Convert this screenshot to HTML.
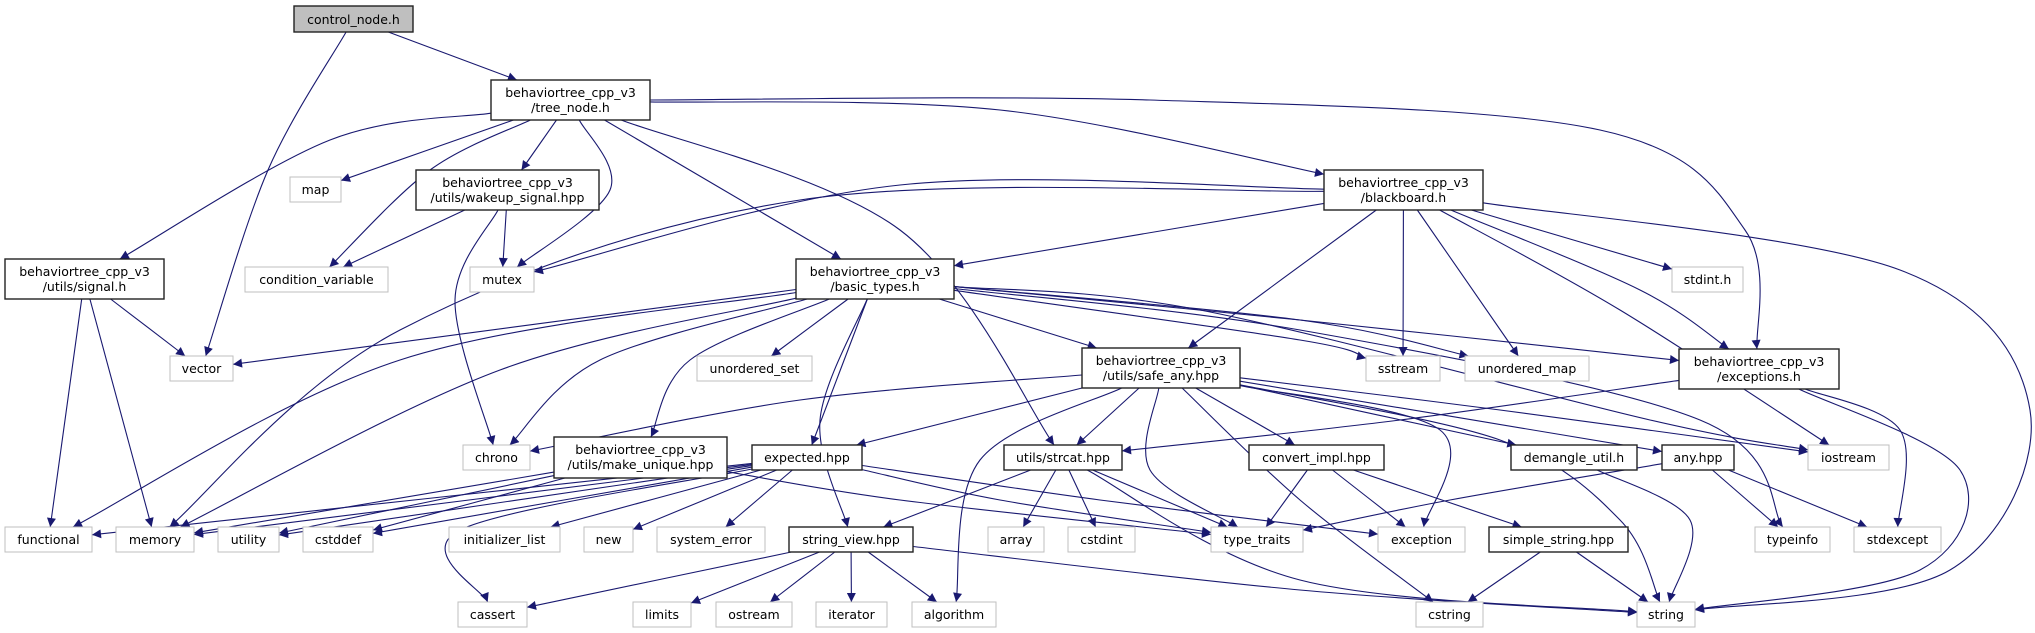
<!DOCTYPE html>
<html><head><meta charset="utf-8">
<style>
html,body{margin:0;padding:0;background:#fff;width:2035px;height:633px;overflow:hidden}
svg{display:block}
text{font-family:"DejaVu Sans","Liberation Sans",sans-serif;font-size:12.5px;fill:#000;text-anchor:middle}
#nodes rect[stroke="#404040"]{stroke:#222;stroke-width:1.4}
</style></head>
<body>
<svg id="g" width="2035" height="633" viewBox="0 0 2035 633" xmlns="http://www.w3.org/2000/svg">
<defs>
<marker id="a" viewBox="0 0 10 10" refX="10" refY="5" markerWidth="11" markerHeight="9" markerUnits="userSpaceOnUse" orient="auto">
<path d="M0,0 L10,5 L0,10 z" fill="#191970"/>
</marker>
</defs>
<g id="edges" fill="none" stroke="#191970" stroke-width="1.1"></g>
<g id="nodes">
<rect x="294" y="6" width="119" height="26" fill="#bfbfbf" stroke="#404040"/><text x="353.5" y="24">control_node.h</text>
<rect x="491" y="80" width="159" height="40" fill="#fff" stroke="#404040"/><text x="570.5" y="97">behaviortree_cpp_v3</text><text x="570.5" y="112">/tree_node.h</text>
<rect x="290" y="177" width="51" height="25" fill="#fff" stroke="#bfbfbf"/><text x="315.5" y="194">map</text>
<rect x="416" y="170" width="183" height="40" fill="#fff" stroke="#404040"/><text x="507.5" y="187">behaviortree_cpp_v3</text><text x="507.5" y="202">/utils/wakeup_signal.hpp</text>
<rect x="5" y="259" width="159" height="40" fill="#fff" stroke="#404040"/><text x="84.5" y="276">behaviortree_cpp_v3</text><text x="84.5" y="291">/utils/signal.h</text>
<rect x="245" y="267" width="143" height="25" fill="#fff" stroke="#bfbfbf"/><text x="316.5" y="284">condition_variable</text>
<rect x="470" y="267" width="64" height="25" fill="#fff" stroke="#bfbfbf"/><text x="502" y="284">mutex</text>
<rect x="1324" y="170" width="159" height="40" fill="#fff" stroke="#404040"/><text x="1403.5" y="187">behaviortree_cpp_v3</text><text x="1403.5" y="202">/blackboard.h</text>
<rect x="796" y="259" width="158" height="40" fill="#fff" stroke="#404040"/><text x="875" y="276">behaviortree_cpp_v3</text><text x="875" y="291">/basic_types.h</text>
<rect x="1672" y="267" width="71" height="25" fill="#fff" stroke="#bfbfbf"/><text x="1707.5" y="284">stdint.h</text>
<rect x="170" y="356" width="63" height="25" fill="#fff" stroke="#bfbfbf"/><text x="201.5" y="373">vector</text>
<rect x="697" y="356" width="115" height="25" fill="#fff" stroke="#bfbfbf"/><text x="754.5" y="373">unordered_set</text>
<rect x="1082" y="348" width="158" height="40" fill="#fff" stroke="#404040"/><text x="1161" y="365">behaviortree_cpp_v3</text><text x="1161" y="380">/utils/safe_any.hpp</text>
<rect x="1366" y="356" width="74" height="25" fill="#fff" stroke="#bfbfbf"/><text x="1403" y="373">sstream</text>
<rect x="1465" y="356" width="124" height="25" fill="#fff" stroke="#bfbfbf"/><text x="1527" y="373">unordered_map</text>
<rect x="1679" y="349" width="160" height="40" fill="#fff" stroke="#404040"/><text x="1759" y="366">behaviortree_cpp_v3</text><text x="1759" y="381">/exceptions.h</text>
<rect x="463" y="445" width="67" height="25" fill="#fff" stroke="#bfbfbf"/><text x="496.5" y="462">chrono</text>
<rect x="554" y="437" width="173" height="41" fill="#fff" stroke="#404040"/><text x="640.5" y="454">behaviortree_cpp_v3</text><text x="640.5" y="469">/utils/make_unique.hpp</text>
<rect x="752" y="445" width="110" height="25" fill="#fff" stroke="#404040"/><text x="807" y="462">expected.hpp</text>
<rect x="1004" y="445" width="118" height="25" fill="#fff" stroke="#404040"/><text x="1063" y="462">utils/strcat.hpp</text>
<rect x="1249" y="445" width="135" height="25" fill="#fff" stroke="#404040"/><text x="1316.5" y="462">convert_impl.hpp</text>
<rect x="1511" y="445" width="126" height="25" fill="#fff" stroke="#404040"/><text x="1574" y="462">demangle_util.h</text>
<rect x="1662" y="445" width="72" height="25" fill="#fff" stroke="#404040"/><text x="1698" y="462">any.hpp</text>
<rect x="1808" y="445" width="81" height="25" fill="#fff" stroke="#bfbfbf"/><text x="1848.5" y="462">iostream</text>
<rect x="5" y="527" width="87" height="25" fill="#fff" stroke="#bfbfbf"/><text x="48.5" y="544">functional</text>
<rect x="116" y="527" width="78" height="25" fill="#fff" stroke="#bfbfbf"/><text x="155" y="544">memory</text>
<rect x="218" y="527" width="61" height="25" fill="#fff" stroke="#bfbfbf"/><text x="248.5" y="544">utility</text>
<rect x="303" y="527" width="70" height="25" fill="#fff" stroke="#bfbfbf"/><text x="338" y="544">cstddef</text>
<rect x="449" y="527" width="111" height="25" fill="#fff" stroke="#bfbfbf"/><text x="504.5" y="544">initializer_list</text>
<rect x="584" y="527" width="49" height="25" fill="#fff" stroke="#bfbfbf"/><text x="608.5" y="544">new</text>
<rect x="657" y="527" width="108" height="25" fill="#fff" stroke="#bfbfbf"/><text x="711" y="544">system_error</text>
<rect x="789" y="527" width="124" height="25" fill="#fff" stroke="#404040"/><text x="851" y="544">string_view.hpp</text>
<rect x="988" y="527" width="56" height="25" fill="#fff" stroke="#bfbfbf"/><text x="1016" y="544">array</text>
<rect x="1068" y="527" width="67" height="25" fill="#fff" stroke="#bfbfbf"/><text x="1101.5" y="544">cstdint</text>
<rect x="1211" y="527" width="92" height="25" fill="#fff" stroke="#bfbfbf"/><text x="1257" y="544">type_traits</text>
<rect x="1378" y="527" width="87" height="25" fill="#fff" stroke="#bfbfbf"/><text x="1421.5" y="544">exception</text>
<rect x="1489" y="527" width="139" height="25" fill="#fff" stroke="#404040"/><text x="1558.5" y="544">simple_string.hpp</text>
<rect x="1755" y="527" width="75" height="25" fill="#fff" stroke="#bfbfbf"/><text x="1792.5" y="544">typeinfo</text>
<rect x="1854" y="527" width="87" height="25" fill="#fff" stroke="#bfbfbf"/><text x="1897.5" y="544">stdexcept</text>
<rect x="458" y="602" width="69" height="25" fill="#fff" stroke="#bfbfbf"/><text x="492.5" y="619">cassert</text>
<rect x="633" y="602" width="58" height="25" fill="#fff" stroke="#bfbfbf"/><text x="662" y="619">limits</text>
<rect x="716" y="602" width="76" height="25" fill="#fff" stroke="#bfbfbf"/><text x="754" y="619">ostream</text>
<rect x="816" y="602" width="71" height="25" fill="#fff" stroke="#bfbfbf"/><text x="851.5" y="619">iterator</text>
<rect x="912" y="602" width="84" height="25" fill="#fff" stroke="#bfbfbf"/><text x="954" y="619">algorithm</text>
<rect x="1416" y="602" width="67" height="25" fill="#fff" stroke="#bfbfbf"/><text x="1449.5" y="619">cstring</text>
<rect x="1637" y="602" width="58" height="25" fill="#fff" stroke="#bfbfbf"/><text x="1666" y="619">string</text>
</g>
</svg>
<script>
var N={
control:[294,6,413,32],tree:[491,80,650,120],map:[290,177,341,202],wakeup:[416,170,599,210],
signal:[5,259,164,299],condvar:[245,267,388,292],mutex:[470,267,534,292],blackboard:[1324,170,1483,210],
basic:[796,259,954,299],stdint:[1672,267,1743,292],vector:[170,356,233,381],uset:[697,356,812,381],
safe:[1082,348,1240,388],sstream:[1366,356,1440,381],umap:[1465,356,1589,381],exceptions:[1679,349,1839,389],
chrono:[463,445,530,470],mku:[554,437,727,478],expected:[752,445,862,470],strcat:[1004,445,1122,470],
convert:[1249,445,1384,470],demangle:[1511,445,1637,470],any:[1662,445,1734,470],iostream:[1808,445,1889,470],
functional:[5,527,92,552],memory:[116,527,194,552],utility:[218,527,279,552],cstddef:[303,527,373,552],
initlist:[449,527,560,552],new:[584,527,633,552],syserr:[657,527,765,552],sview:[789,527,913,552],
array:[988,527,1044,552],cstdint:[1068,527,1135,552],tt:[1211,527,1303,552],exception:[1378,527,1465,552],
sstring:[1489,527,1628,552],typeinfo:[1755,527,1830,552],stdexcept:[1854,527,1941,552],
cassert:[458,602,527,627],limits:[633,602,691,627],ostream:[716,602,792,627],iterator:[816,602,887,627],
algorithm:[912,602,996,627],cstring:[1416,602,1483,627],string:[1637,602,1695,627]};
function c(n){var b=N[n];return [(b[0]+b[2])/2,(b[1]+b[3])/2];}
function clip(n,p){var b=N[n],cx=(b[0]+b[2])/2,cy=(b[1]+b[3])/2,dx=p[0]-cx,dy=p[1]-cy;
var hw=(b[2]-b[0])/2,hh=(b[3]-b[1])/2,t=Math.min(dx?hw/Math.abs(dx):1e9,dy?hh/Math.abs(dy):1e9);
return [cx+dx*t,cy+dy*t];}
var E=[
['control','tree'],['control','vector',[[268,170]]],
['tree','signal',[[330,140]]],['tree','map'],['tree','condvar',[[430,170]]],['tree','wakeup'],['tree','mutex',[[610,190]]],
['tree','basic'],['tree','strcat',[[900,230]]],['tree','blackboard',[[1000,110]]],['tree','exceptions',[[1150,100],[1600,130],[1745,230]]],
['wakeup','condvar'],['wakeup','mutex'],['wakeup','chrono',[[455,300]]],
['signal','functional'],['signal','memory'],['signal','vector'],
['blackboard','mutex',[[900,185]]],['blackboard','basic'],['blackboard','memory',[[800,200],[400,330]]],['blackboard','safe'],
['blackboard','sstream'],['blackboard','umap'],['blackboard','iostream',[[1620,310]]],['blackboard','exceptions',[[1640,290]]],
['blackboard','stdint'],['blackboard','string',[[1900,270],[2030,410],[1950,570]]],
['basic','vector'],['basic','functional',[[400,360]]],['basic','memory',[[500,370]]],['basic','chrono',[[600,360]]],
['basic','mku',[[690,360]]],['basic','uset'],['basic','expected'],['basic','sview',[[820,420]]],['basic','safe'],
['basic','sstream',[[1300,340]]],['basic','umap',[[1300,320]]],['basic','exceptions',[[1300,320]]],
['basic','typeinfo',[[1300,330],[1700,420]]],['basic','iostream',[[1200,310],[1650,420]]],
['safe','chrono',[[800,400]]],['safe','expected'],['safe','strcat'],['safe','algorithm',[[980,460]]],['safe','tt',[[1150,470]]],
['safe','cstring',[[1300,500]]],['safe','convert'],['safe','exception',[[1440,430]]],['safe','demangle'],['safe','any'],
['safe','iostream',[[1500,410]]],['safe','string',[[1500,440],[1620,520]]],
['mku','memory'],['mku','utility'],['mku','cstddef'],['mku','tt',[[900,500]]],
['expected','functional'],['expected','memory'],['expected','utility'],['expected','cstddef'],['expected','initlist'],
['expected','new'],['expected','syserr'],['expected','cassert',[[460,530]]],['expected','tt',[[1000,500]]],['expected','exception',[[1100,500]]],
['strcat','sview'],['strcat','array'],['strcat','cstdint'],['strcat','tt'],['strcat','string',[[1300,580]]],
['sview','cassert'],['sview','limits'],['sview','ostream'],['sview','iterator'],['sview','algorithm'],['sview','string',[[1300,590]]],
['convert','tt'],['convert','exception'],['convert','sstring'],
['sstring','cstring'],['sstring','string'],['demangle','string',[[1690,520]]],
['any','tt',[[1450,500]]],['any','typeinfo'],['any','stdexcept'],
['exceptions','strcat',[[1400,420]]],['exceptions','stdexcept',[[1900,430]]],['exceptions','string',[[1960,470],[1920,570]]]
];
var g=document.getElementById('edges'),ns='http://www.w3.org/2000/svg';
E.forEach(function(e){
 var via=e[2]||[],first=via.length?via[0]:c(e[1]),last=via.length?via[via.length-1]:c(e[0]);
 var pts=[clip(e[0],first)].concat(via,[clip(e[1],last)]);
 var d='M'+pts[0][0].toFixed(1)+','+pts[0][1].toFixed(1);
 for(var i=0;i<pts.length-1;i++){
  var p0=pts[i-1]||pts[i],p1=pts[i],p2=pts[i+1],p3=pts[i+2]||p2;
  var c1=[p1[0]+(p2[0]-p0[0])/6,p1[1]+(p2[1]-p0[1])/6],c2=[p2[0]-(p3[0]-p1[0])/6,p2[1]-(p3[1]-p1[1])/6];
  d+=' C'+c1.join(',')+' '+c2.join(',')+' '+p2.join(',');
 }
 var p=document.createElementNS(ns,'path');p.setAttribute('d',d);p.setAttribute('marker-end','url(#a)');g.appendChild(p);
});
</script>
</body></html>
